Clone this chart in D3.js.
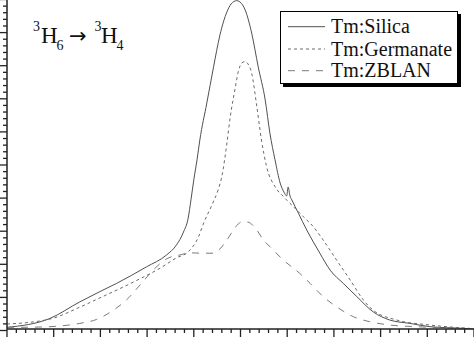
<!DOCTYPE html>
<html><head><meta charset="utf-8">
<script src="https://cdn.jsdelivr.net/npm/d3@7"></script>
<style>html,body{margin:0;padding:0;background:#fff;}svg{display:block;}</style>
</head><body>
<svg id="c" width="474" height="337"></svg>
<script>
// x values in axis units (10 major divisions), y values in axis units
const silicaX = [0.01,0.93,1.57,2.00,2.36,3.00,3.43,3.64,3.79,3.89,3.95,4.01,4.08,4.14,4.29,4.43,4.57,4.72,4.81,4.93,5.00,5.11,5.25,5.39,5.54,5.64,5.75,5.86,5.94,6.00,6.03,6.07,6.11,6.25,6.43,6.57,6.71,6.93,7.21,7.50,7.85,8.21,8.64,9.07,9.78,10.0];
const silicaY = [0.08,0.35,0.85,1.16,1.41,1.91,2.27,2.57,2.96,3.38,3.93,4.53,5.14,5.74,6.86,7.92,8.91,9.61,9.85,9.95,9.91,9.67,8.97,7.95,6.95,5.95,5.14,4.44,4.17,4.05,4.32,4.05,3.93,3.53,3.02,2.66,2.32,1.81,1.41,1.01,0.55,0.30,0.20,0.10,0.05,0.03];
const germX = [0.01,0.93,1.57,2.00,2.72,3.29,3.64,3.89,4.11,4.23,4.40,4.53,4.61,4.72,4.79,4.89,4.96,5.04,5.11,5.17,5.25,5.36,5.46,5.57,5.75,5.93,6.14,6.36,6.57,6.78,7.07,7.36,7.64,7.85,8.36,9.07,9.92];
const germY = [0.18,0.33,0.69,0.97,1.45,1.87,2.18,2.36,2.81,3.26,3.78,4.23,4.63,5.65,6.43,7.25,7.79,8.07,8.11,8.04,7.76,6.75,5.74,4.93,4.33,4.03,3.73,3.42,3.12,2.72,2.11,1.51,0.91,0.60,0.30,0.15,0.05];
const zblanX = [0.01,0.72,1.57,1.93,2.29,2.57,2.86,3.14,3.43,3.72,3.93,4.21,4.43,4.57,4.72,4.86,4.96,5.06,5.17,5.36,5.50,5.64,5.93,6.28,6.50,6.78,7.07,7.43,7.78,8.21,8.78,9.78];
const zblanY = [0.08,0.09,0.20,0.32,0.60,0.91,1.36,1.81,2.15,2.27,2.33,2.32,2.32,2.45,2.72,3.02,3.20,3.27,3.26,3.02,2.72,2.52,2.11,1.71,1.41,1.01,0.70,0.40,0.25,0.15,0.10,0.05];
const seriesNames = ["Tm:Silica","Tm:Germanate","Tm:ZBLAN"];
const seriesColors = ["#505050","#6a6a6a","#7a7a7a"];
const seriesDash = [null,"3,3","7,7"];

const svg = d3.select("#c");
const x = d3.scaleLinear().domain([0,10]).range([6.5,473.5]);
const y = d3.scaleLinear().domain([0,10]).range([330,-1]);

const series = [
  silicaX.map((v,i)=>[v,silicaY[i]]),
  germX.map((v,i)=>[v,germY[i]]),
  zblanX.map((v,i)=>[v,zblanY[i]])
];

svg.append("defs").append("clipPath").attr("id","clip")
  .append("rect").attr("x",7).attr("y",0).attr("width",467).attr("height",329);

const line = d3.line().x(d=>x(d[0])).y(d=>y(d[1])).curve(d3.curveMonotoneX);
const g = svg.append("g").attr("clip-path","url(#clip)");
series.forEach((s,i)=>{
  g.append("path").datum(s).attr("d",line)
    .attr("fill","none").attr("stroke",seriesColors[i]).attr("stroke-width",1)
    .attr("stroke-dasharray",seriesDash[i]);
});

// axes
const axisColor = "#222";
const xMajor = d3.range(0,11,1);
const xMinor = d3.range(0,10.01,0.2).filter(v=>Math.abs(v-Math.round(v))>1e-6);
const yMajor = d3.range(0,11,1);
const yMinor = d3.range(0,10.01,0.2).filter(v=>Math.abs(v-Math.round(v))>1e-6);

const xAxisMaj = d3.axisBottom(x).tickValues(xMajor).tickSize(8).tickFormat("");
const xAxisMin = d3.axisBottom(x).tickValues(xMinor).tickSize(4).tickFormat("");
const yAxisMaj = d3.axisLeft(y).tickValues(yMajor).tickSize(7).tickFormat("");
const yAxisMin = d3.axisLeft(y).tickValues(yMinor).tickSize(4).tickFormat("");

function style(sel){
  sel.selectAll("path.domain").remove();
  sel.selectAll("line").attr("stroke",axisColor).attr("stroke-width",1.3);
}
svg.append("g").attr("transform","translate(0,329)").call(xAxisMaj).call(style);
svg.append("g").attr("transform","translate(0,329)").call(xAxisMin).call(style);
svg.append("g").attr("transform","translate(7,0)").call(yAxisMaj).call(style);
svg.append("g").attr("transform","translate(7,0)").call(yAxisMin).call(style);
svg.append("line").attr("x1",7).attr("x2",474).attr("y1",329).attr("y2",329).attr("stroke",axisColor).attr("stroke-width",1.5);
svg.append("line").attr("x1",7).attr("x2",7).attr("y1",0).attr("y2",329).attr("stroke",axisColor).attr("stroke-width",1.5);

// annotation
const font = "'Liberation Serif','Times New Roman',serif";
const ann = svg.append("g").attr("font-family",font).attr("fill","#111");
const annParts = [
  {t:"3",x:33,y:31,s:14},{t:"H",x:41,y:43,s:23},{t:"6",x:56.5,y:50,s:14},
  {t:"3",x:94.5,y:31,s:14},{t:"H",x:101,y:43,s:23},{t:"4",x:116.5,y:50,s:14}
];
annParts.forEach(p=>ann.append("text").attr("x",p.x).attr("y",p.y).attr("font-size",p.s).text(p.t));
ann.append("text").attr("x",69).attr("y",42.5).attr("font-family","'DejaVu Sans',sans-serif")
  .attr("font-size",21).text("\u2192");

// legend
const lg = svg.append("g");
lg.append("rect").attr("x",283).attr("y",14).attr("width",178).attr("height",73).attr("fill","#000");
lg.append("rect").attr("x",280.5).attr("y",11.5).attr("width",177).attr("height",72).attr("fill","#fff").attr("stroke","#000").attr("stroke-width",1);
const rowY = [26.7,49,70.7];
seriesNames.forEach((n,i)=>{
  lg.append("line").attr("x1",288).attr("x2",325).attr("y1",rowY[i]).attr("y2",rowY[i])
    .attr("stroke",seriesColors[i]).attr("stroke-width",1).attr("stroke-dasharray",seriesDash[i]);
  lg.append("text").attr("x",331).attr("y",rowY[i]+6.5).attr("font-family",font)
    .attr("font-size",20).attr("fill","#111").text(n);
});
</script>
</body></html>
